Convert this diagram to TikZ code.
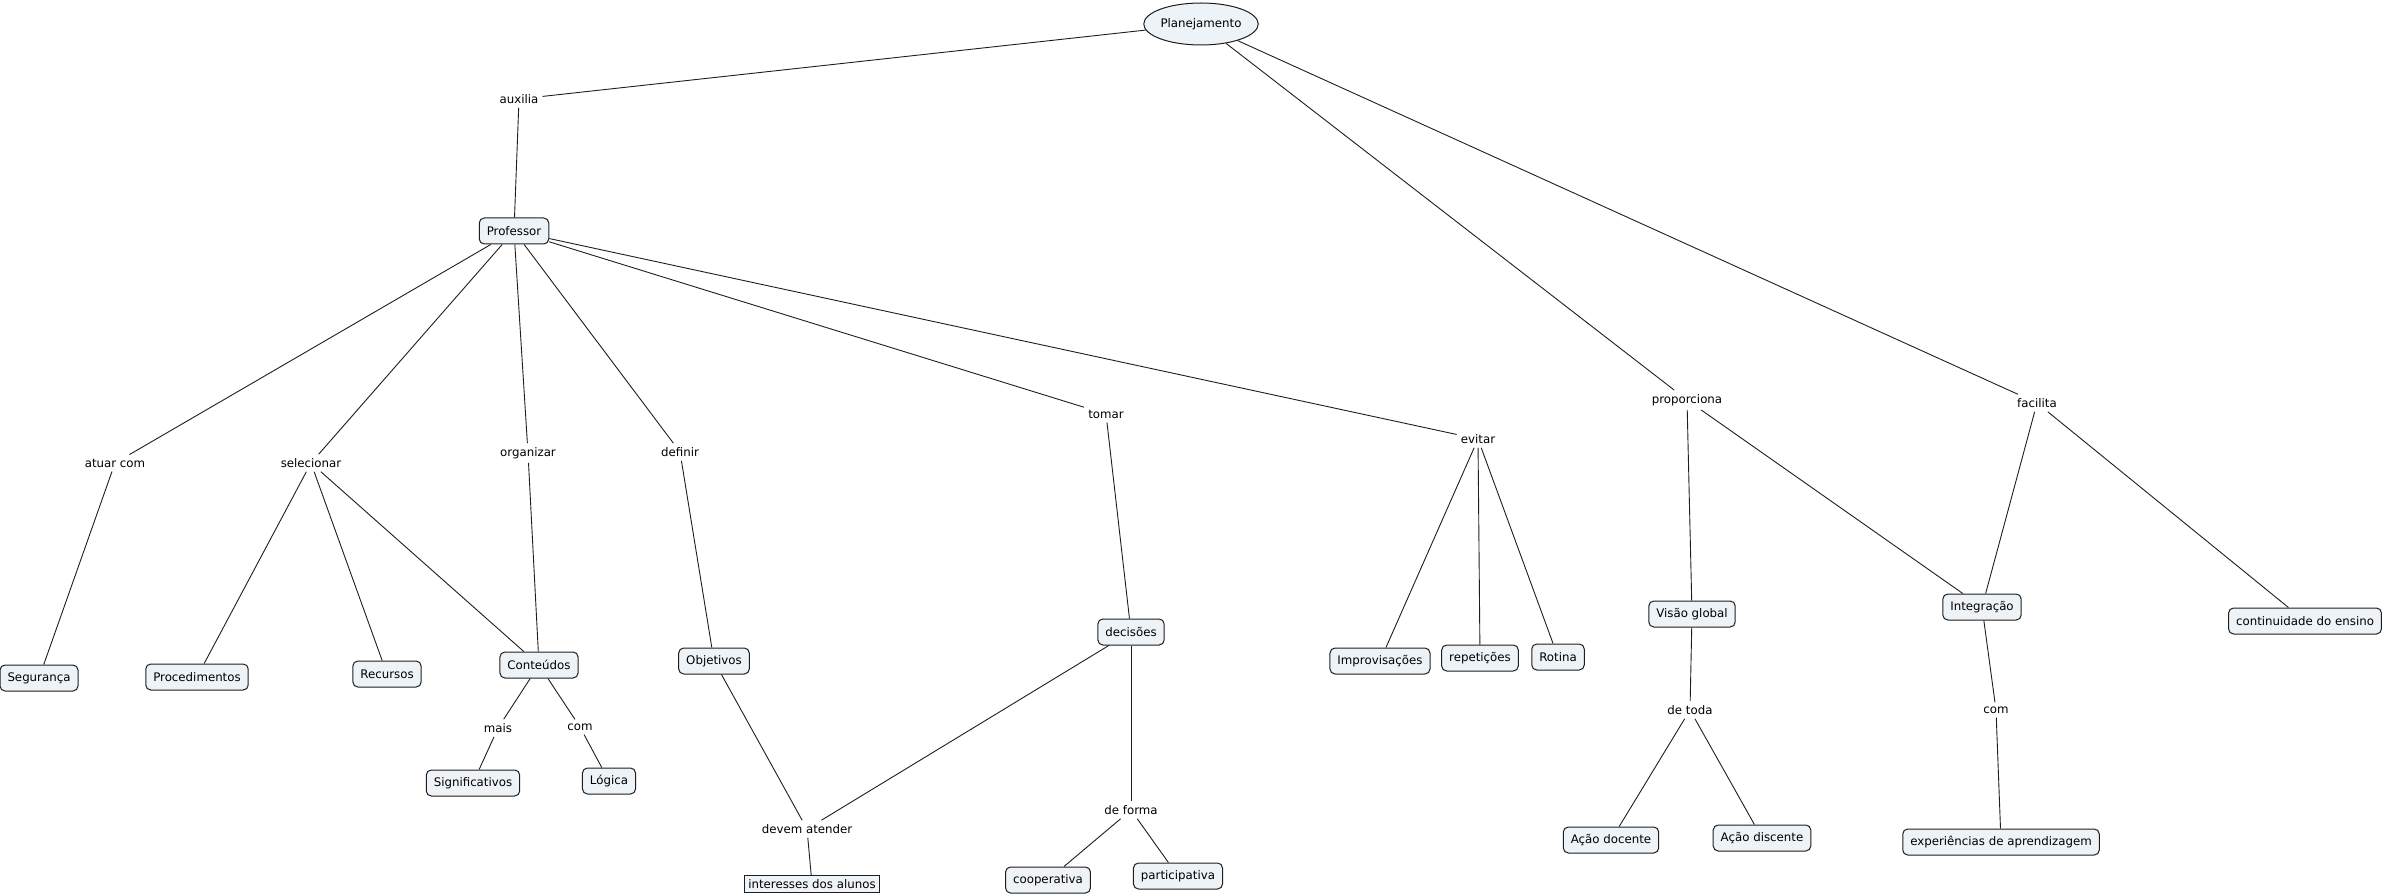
\documentclass[tikz,border=0pt]{standalone}
\usepackage{fontspec}
\setmainfont{DejaVu Sans}
\usetikzlibrary{shapes.geometric}
\definecolor{cfill}{RGB}{237,243,246}
\definecolor{cline}{RGB}{30,30,30}
\tikzset{
  concept/.style={draw=cline, fill=cfill, rounded corners=5pt, line width=1pt,
    minimum height=26pt, inner xsep=7.5pt, inner ysep=0pt, font=\fontsize{11.8}{13}\selectfont},
  plainbox/.style={draw=cline, fill=cfill, line width=1pt, minimum height=17pt,
    inner xsep=4pt, inner ysep=0pt, font=\fontsize{11.8}{13}\selectfont},
  lbl/.style={inner sep=4pt, font=\fontsize{11.8}{13}\selectfont},
  conn/.style={draw=cline, line width=0.9pt}
}
\begin{document}
\begin{tikzpicture}[x=1pt,y=-1pt]
\useasboundingbox (0,0) rectangle (2386,896);
% concepts
\node[draw=cline, fill=cfill, ellipse, line width=1pt, minimum width=102pt, minimum height=42pt, inner sep=0pt, font=\fontsize{11.8}{13}\selectfont] (plan) at (1201,24) {Planejamento};
\node[concept] (prof) at (514,231) {Professor};
\node[concept] (seg) at (39,678) {Segurança};
\node[concept] (proc) at (197,677) {Procedimentos};
\node[concept] (rec) at (387,674) {Recursos};
\node[concept] (cont) at (539,665) {Conteúdos};
\node[concept] (sig) at (473,783) {Significativos};
\node[concept] (log) at (609,781) {Lógica};
\node[concept] (obj) at (714,661) {Objetivos};
\node[plainbox] (int) at (812,884) {interesses dos alunos};
\node[concept] (dec) at (1131,632) {decisões};
\node[concept] (coop) at (1048,880) {cooperativa};
\node[concept] (part) at (1178,876) {participativa};
\node[concept] (impr) at (1380,661) {Improvisações};
\node[concept] (rep) at (1480,658) {repetições};
\node[concept] (rot) at (1558,657) {Rotina};
\node[concept] (vis) at (1692,614) {Visão global};
\node[concept] (adoc) at (1611,840) {Ação docente};
\node[concept] (adis) at (1762,838) {Ação discente};
\node[concept] (integ) at (1982,607) {Integração};
\node[concept] (exp) at (2001,842) {experiências de aprendizagem};
\node[concept] (cen) at (2305,621) {continuidade do ensino};
% linking phrases
\node[lbl] (aux) at (519,99) {auxilia};
\node[lbl] (atu) at (115,463) {atuar com};
\node[lbl] (sel) at (311,463) {selecionar};
\node[lbl] (org) at (528,453) {organizar};
\node[lbl] (def) at (680,452) {definir};
\node[lbl] (tom) at (1106,414) {tomar};
\node[lbl] (evi) at (1478,439) {evitar};
\node[lbl] (prop) at (1687,400) {proporciona};
\node[lbl] (fac) at (2037,403) {facilita};
\node[lbl] (mais) at (498,728) {mais};
\node[lbl] (com) at (580,727) {com};
\node[lbl] (dev) at (807,829) {devem atender};
\node[lbl] (forma) at (1131,810) {de forma};
\node[lbl] (toda) at (1690,710) {de toda};
\node[lbl] (com2) at (1996,710) {com};
% connectors
\draw[conn] (plan) -- (aux);
\draw[conn] (aux) -- (prof);
\draw[conn] (plan) -- (prop);
\draw[conn] (prop) -- (vis);
\draw[conn] (prop) -- (integ);
\draw[conn] (plan) -- (fac);
\draw[conn] (fac) -- (integ);
\draw[conn] (fac) -- (cen);
\draw[conn] (prof) -- (atu);
\draw[conn] (atu) -- (seg);
\draw[conn] (prof) -- (sel);
\draw[conn] (sel) -- (proc);
\draw[conn] (sel) -- (rec);
\draw[conn] (sel) -- (cont);
\draw[conn] (prof) -- (org);
\draw[conn] (org) -- (cont);
\draw[conn] (prof) -- (def);
\draw[conn] (def) -- (obj);
\draw[conn] (prof) -- (tom);
\draw[conn] (tom) -- (dec);
\draw[conn] (prof) -- (evi);
\draw[conn] (evi) -- (impr);
\draw[conn] (evi) -- (rep);
\draw[conn] (evi) -- (rot);
\draw[conn] (cont) -- (mais);
\draw[conn] (mais) -- (sig);
\draw[conn] (cont) -- (com);
\draw[conn] (com) -- (log);
\draw[conn] (obj) -- (dev);
\draw[conn] (dec) -- (dev);
\draw[conn] (dev) -- (int);
\draw[conn] (dec) -- (forma);
\draw[conn] (forma) -- (coop);
\draw[conn] (forma) -- (part);
\draw[conn] (vis) -- (toda);
\draw[conn] (toda) -- (adoc);
\draw[conn] (toda) -- (adis);
\draw[conn] (integ) -- (com2);
\draw[conn] (com2) -- (exp);
\end{tikzpicture}
\end{document}
